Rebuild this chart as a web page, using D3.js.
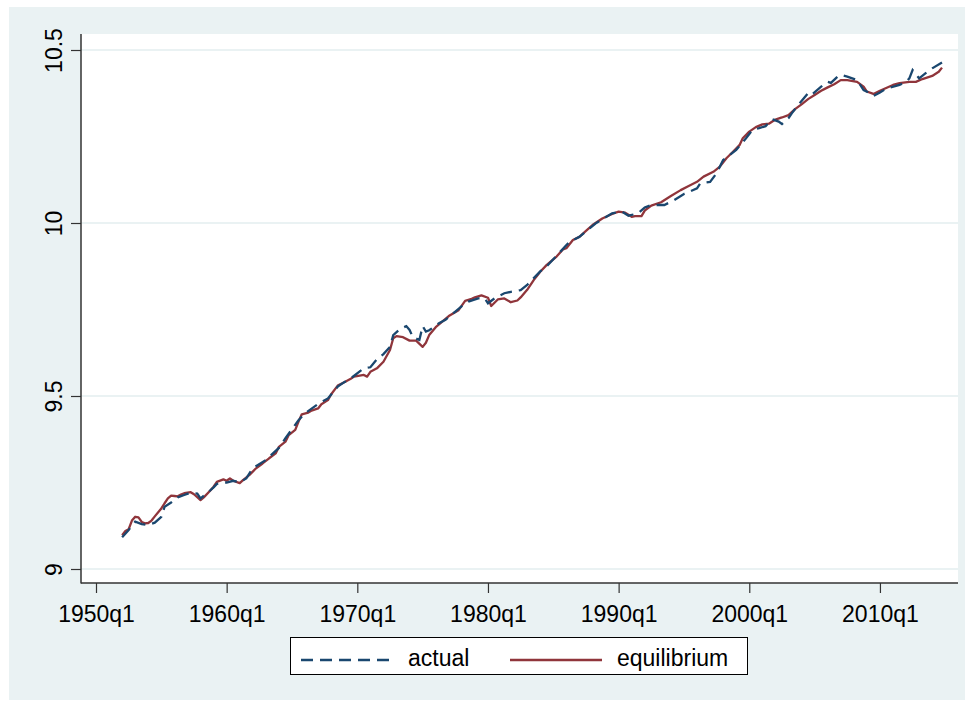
<!DOCTYPE html>
<html><head><meta charset="utf-8">
<script src="https://cdn.jsdelivr.net/npm/d3@7"></script>
<style>body{margin:0;background:#fff;}svg{display:block;font-family:"Liberation Sans",Arial,sans-serif;}</style>
</head><body>
<svg id="chart" width="970" height="708"></svg>
<script>
const xTicks = ["1950q1","1960q1","1970q1","1980q1","1990q1","2000q1","2010q1"];
const yTicks = [9, 9.5, 10, 10.5];
const seriesNames = ["actual", "equilibrium"];

const actualDates = ["1952q1","1952q3","1953q1","1953q3","1954q1","1954q3","1955q1","1955q2","1955q4","1956q2","1956q4","1957q2","1957q4","1958q1","1958q3","1959q1","1959q2","1959q4","1960q1","1960q3","1961q1","1961q3","1962q1","1963q1","1964q1","1964q3","1965q3","1966q1","1967q1","1967q4","1968q3","1969q1","1969q3","1970q3","1971q1","1971q3","1972q1","1972q3","1972q4","1973q2","1973q4","1974q1","1974q2","1974q4","1975q1","1975q2","1975q3","1976q2","1976q4","1977q3","1978q1","1978q3","1979q2","1979q4","1980q1","1980q3","1981q2","1981q4","1982q3","1983q1","1984q1","1984q3","1985q1","1986q2","1987q1","1988q2","1989q3","1990q2","1990q4","1991q3","1992q1","1992q3","1993q3","1994q2","1995q1","1996q1","1996q2","1997q1","1997q3","1998q1","1999q1","1999q4","2000q2","2000q4","2001q2","2001q4","2002q2","2002q3","2003q1","2003q2","2003q4","2004q3","2004q4","2005q3","2006q1","2006q2","2006q4","2007q1","2007q3","2008q2","2008q4","2009q2","2009q3","2010q1","2010q3","2011q3","2012q1","2012q2","2012q3","2013q1","2013q3","2014q1","2014q4"];
const actualValues = [9.092,9.113,9.137,9.130,9.127,9.134,9.151,9.180,9.192,9.207,9.214,9.221,9.218,9.204,9.219,9.236,9.246,9.250,9.250,9.255,9.250,9.262,9.291,9.315,9.350,9.378,9.430,9.450,9.477,9.493,9.527,9.540,9.551,9.580,9.583,9.606,9.621,9.642,9.676,9.693,9.702,9.691,9.670,9.662,9.702,9.686,9.690,9.710,9.720,9.744,9.760,9.773,9.782,9.782,9.768,9.782,9.797,9.801,9.806,9.821,9.860,9.875,9.895,9.946,9.960,9.999,10.028,10.033,10.021,10.028,10.045,10.052,10.052,10.066,10.084,10.100,10.115,10.119,10.144,10.182,10.211,10.245,10.269,10.274,10.280,10.300,10.293,10.286,10.303,10.317,10.341,10.375,10.370,10.394,10.408,10.405,10.423,10.428,10.423,10.413,10.384,10.375,10.367,10.377,10.389,10.399,10.408,10.418,10.442,10.418,10.433,10.447,10.464];

const equilDates = ["1952q1","1952q2","1952q3","1952q4","1953q1","1953q2","1953q3","1953q4","1954q1","1954q2","1954q3","1955q1","1955q2","1955q3","1955q4","1956q1","1956q2","1956q3","1956q4","1957q2","1957q3","1958q1","1958q2","1958q4","1959q1","1959q2","1959q4","1960q1","1960q2","1960q3","1961q1","1961q2","1961q4","1962q2","1962q4","1963q2","1963q4","1964q1","1964q3","1964q4","1965q2","1965q3","1965q4","1966q2","1966q3","1967q1","1967q2","1967q4","1968q1","1968q3","1969q1","1969q3","1969q4","1970q3","1970q4","1971q1","1971q3","1972q1","1972q3","1972q4","1973q1","1973q3","1974q1","1974q3","1975q1","1975q2","1975q3","1976q1","1976q3","1977q1","1977q4","1978q2","1978q4","1979q1","1979q3","1980q1","1980q2","1980q4","1981q2","1981q4","1982q2","1982q3","1983q1","1983q3","1984q1","1984q3","1985q2","1985q4","1986q1","1986q3","1987q1","1987q3","1988q1","1988q4","1989q3","1990q1","1990q3","1991q1","1991q2","1991q4","1992q1","1992q3","1993q2","1994q1","1994q4","1995q2","1996q1","1996q3","1997q2","1997q4","1998q2","1998q4","1999q2","1999q3","2000q1","2000q3","2001q1","2001q3","2002q1","2002q3","2003q1","2003q3","2004q1","2004q3","2005q1","2005q3","2006q1","2006q3","2007q1","2007q3","2008q2","2008q4","2009q1","2009q3","2010q1","2011q1","2011q3","2012q2","2012q4","2013q2","2014q1","2014q3","2014q4"];
const equilValues = [9.098,9.110,9.115,9.140,9.151,9.149,9.136,9.132,9.133,9.140,9.152,9.175,9.190,9.204,9.212,9.211,9.210,9.215,9.219,9.222,9.216,9.199,9.207,9.227,9.238,9.252,9.259,9.255,9.262,9.255,9.248,9.257,9.272,9.291,9.305,9.320,9.334,9.353,9.368,9.387,9.402,9.426,9.447,9.452,9.458,9.464,9.476,9.488,9.505,9.530,9.540,9.550,9.556,9.561,9.556,9.570,9.580,9.599,9.633,9.667,9.673,9.670,9.660,9.660,9.642,9.654,9.676,9.699,9.715,9.731,9.748,9.775,9.781,9.785,9.791,9.784,9.760,9.779,9.782,9.771,9.776,9.785,9.807,9.835,9.859,9.879,9.903,9.924,9.927,9.951,9.960,9.977,9.994,10.013,10.026,10.033,10.030,10.018,10.020,10.020,10.036,10.050,10.060,10.078,10.095,10.105,10.119,10.134,10.148,10.163,10.187,10.206,10.225,10.245,10.264,10.277,10.285,10.287,10.299,10.305,10.312,10.329,10.343,10.358,10.370,10.382,10.392,10.401,10.413,10.413,10.408,10.394,10.380,10.373,10.382,10.399,10.404,10.408,10.408,10.416,10.425,10.437,10.449];

function qnum(s){ const p = s.split("q"); return +p[0] + (+p[1]-1)/4; }

const svg = d3.select("#chart");
const BG = "#EAF2F3";
const FONT = "Liberation Sans, Arial, sans-serif";
const FS = 23;
const plot = {left:81, right:958, top:34, bottom:583};

const x = d3.scaleLinear().domain([qnum("1950q1"), qnum("2014q4")]).range([96, 942]);
const y = d3.scaleLinear().domain([9, 10.5]).range([569, 50]);

svg.append("rect").attr("x",9).attr("y",7).attr("width",956).attr("height",693).attr("fill",BG);
svg.append("rect").attr("x",plot.left).attr("y",plot.top).attr("width",plot.right-plot.left).attr("height",plot.bottom-plot.top).attr("fill","#fff");

// gridlines
svg.append("g").selectAll("line").data(yTicks).join("line")
  .attr("x1",plot.left).attr("x2",plot.right)
  .attr("y1",d=>y(d)).attr("y2",d=>y(d))
  .attr("stroke",BG).attr("stroke-width",2);

// lines
const mk = (dates, vals) => dates.map((d,i)=>({t:qnum(d), v:vals[i]}));
const line = d3.line().x(d=>x(d.t)).y(d=>y(d.v));
svg.append("path").datum(mk(equilDates, equilValues)).attr("d",line)
  .attr("fill","none").attr("stroke","#90353B").attr("stroke-width",2.3).attr("stroke-linejoin","round");
svg.append("path").datum(mk(actualDates, actualValues)).attr("d",line)
  .attr("fill","none").attr("stroke","#1A476F").attr("stroke-width",2.3).attr("stroke-dasharray","12,7");

// axes
const xAxis = d3.axisBottom(x).tickValues(xTicks.map(qnum)).tickFormat((d,i)=>xTicks[i]).tickSize(10).tickPadding(0);
const gx = svg.append("g").attr("transform",`translate(0,${plot.bottom})`).call(xAxis);
gx.select(".domain").remove();
gx.selectAll(".tick line").attr("stroke","#333").attr("stroke-width",1.2);
gx.selectAll(".tick text").attr("font-size",FS).attr("fill","#000").attr("font-family",FONT)
  .attr("y",39).attr("dy",null);

const yAxis = d3.axisLeft(y).tickValues(yTicks).tickFormat(d3.format("")).tickSize(10).tickPadding(0);
const gy = svg.append("g").attr("transform",`translate(${plot.left},0)`).call(yAxis);
gy.select(".domain").remove();
gy.selectAll(".tick line").attr("stroke","#333").attr("stroke-width",1.2);
gy.selectAll(".tick text").attr("font-size",FS).attr("fill","#000").attr("font-family",FONT)
  .attr("x",0).attr("dy",null).attr("text-anchor","middle")
  .attr("transform","translate(-19,0) rotate(-90)").attr("y",0);

svg.append("line").attr("x1",plot.left).attr("x2",plot.left).attr("y1",plot.top).attr("y2",plot.bottom+0.5).attr("stroke","#333").attr("stroke-width",1.5);
svg.append("line").attr("x1",plot.left).attr("x2",plot.right).attr("y1",plot.bottom).attr("y2",plot.bottom).attr("stroke","#333").attr("stroke-width",1.5);

// legend
const lg = svg.append("g");
lg.append("rect").attr("x",290.5).attr("y",637.5).attr("width",457).attr("height",37).attr("fill","#fff").attr("stroke","#000").attr("stroke-width",1);
const legendItems = [
  {name:seriesNames[0], color:"#1A476F", dash:"12,7", x1:301, x2:393, tx:408},
  {name:seriesNames[1], color:"#90353B", dash:null, x1:510, x2:602, tx:617}
];
legendItems.forEach(it=>{
  lg.append("line").attr("x1",it.x1).attr("x2",it.x2).attr("y1",660).attr("y2",660)
    .attr("stroke",it.color).attr("stroke-width",2.3).attr("stroke-dasharray",it.dash);
  lg.append("text").attr("x",it.tx).attr("y",666).attr("font-size",FS).attr("font-family",FONT).attr("fill","#000").text(it.name);
});
</script>
</body></html>
